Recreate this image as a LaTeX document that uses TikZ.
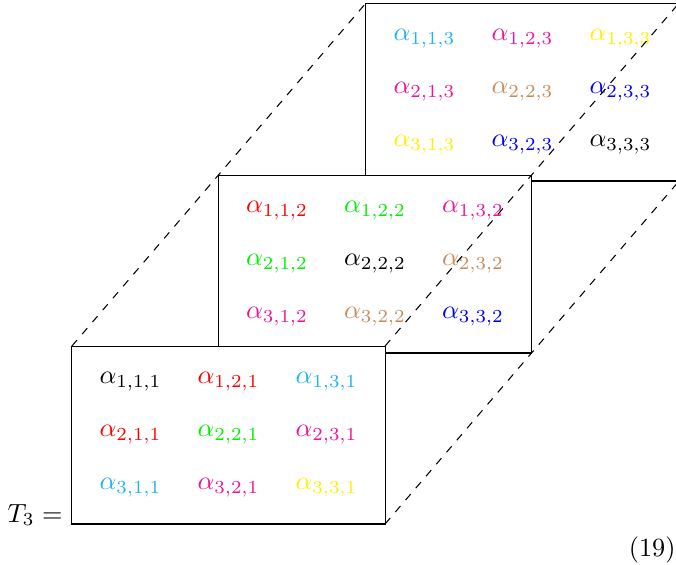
\documentclass[tikz,border=0pt]{standalone}
\usepackage{xcolor}
\definecolor{cA}{RGB}{30,180,240}
\definecolor{cP}{RGB}{240,20,150}
\definecolor{cY}{RGB}{255,240,0}
\definecolor{cB}{RGB}{200,140,90}
\definecolor{cG}{RGB}{0,240,0}
\definecolor{cR}{RGB}{255,0,0}
\definecolor{cU}{RGB}{0,0,255}
\definecolor{cK}{RGB}{0,0,0}
\begin{document}
\begin{tikzpicture}[x=0.381pt,y=-0.381pt,
  slab/.style={draw=black,fill=white,line width=0.4pt,minimum width=119.3pt,minimum height=67.8pt,inner sep=0pt,outer sep=0pt},
  entry/.style={inner sep=0pt},
  guide/.style={draw=black,dashed,line width=0.4pt}]
\useasboundingbox (0,0) rectangle (676,564);
% slabs, back to front
\node[slab] (B) at (522.5,92) {};
\node[slab] (M) at (375,264) {};
\node[slab] (F) at (228.5,435) {};
% entries: back slab (k=3)
\foreach \r/\c/\col in {1/1/cA,1/2/cP,1/3/cY,2/1/cP,2/2/cB,2/3/cU,3/1/cY,3/2/cU,3/3/cK}{
  \node[entry,text=\col] (b\r\c) at ({522.5+(\c-2)*98},{92+(\r-2)*53}) {$\alpha_{\r,\c,3}$};
}
% entries: middle slab (k=2)
\foreach \r/\c/\col in {1/1/cR,1/2/cG,1/3/cP,2/1/cG,2/2/cK,2/3/cB,3/1/cP,3/2/cB,3/3/cU}{
  \node[entry,text=\col] (m\r\c) at ({375+(\c-2)*98},{264+(\r-2)*53}) {$\alpha_{\r,\c,2}$};
}
% entries: front slab (k=1)
\foreach \r/\c/\col in {1/1/cK,1/2/cR,1/3/cA,2/1/cR,2/2/cG,2/3/cP,3/1/cA,3/2/cP,3/3/cY}{
  \node[entry,text=\col] (f\r\c) at ({228.5+(\c-2)*98},{435+(\r-2)*53}) {$\alpha_{\r,\c,1}$};
}
% dashed guides
\draw[guide] (F.north west) -- (M.north west) -- (B.north west);
\draw[guide] (F.north east) -- (M.north east) -- (B.north east);
\draw[guide] (F.south east) -- (M.south east) -- (B.south east);
% labels
\node[inner sep=0pt,anchor=base east] (lbl) at (63,522) {$T_3 =$};
\node[inner sep=0pt,anchor=base east] (eq) at (676,556) {(19)};
\end{tikzpicture}
\end{document}
